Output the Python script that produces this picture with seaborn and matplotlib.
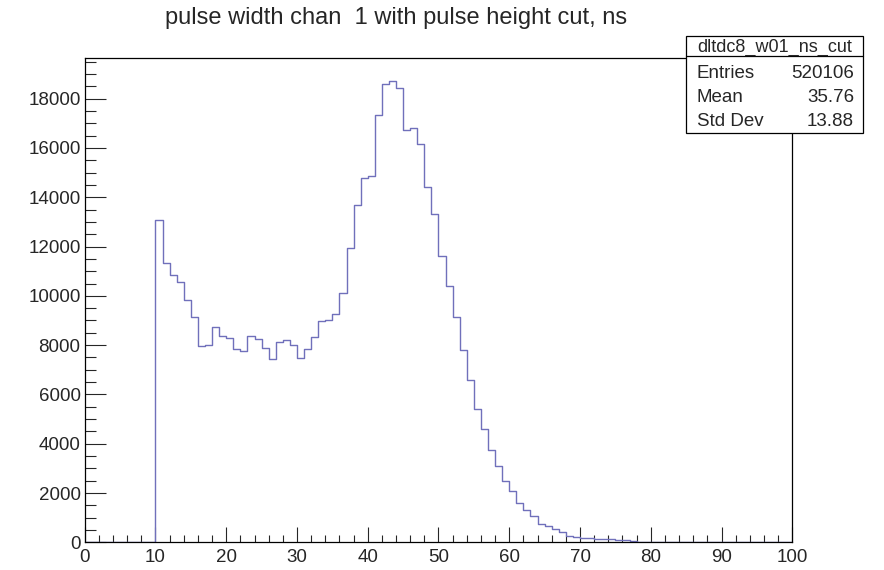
import numpy as np
import pandas as pd
import matplotlib
matplotlib.use("Agg")
import matplotlib.pyplot as plt
from matplotlib.patches import Rectangle
from matplotlib.lines import Line2D
from matplotlib.ticker import MultipleLocator
import seaborn as sns

# Histogram contents: 1 ns bins, first filled bin starts at 10 ns
first_bin = 10
counts = [
    13093, 11350, 10863, 10566, 9850, 9147, 7971, 7998, 8742, 8363,   # 10-19
    8309, 7823, 7755, 8377, 8255, 7864, 7418, 8134, 8201, 7998,       # 20-29
    7472, 7823, 8323, 8985, 9039, 9269, 10134, 11944, 13674, 14796,   # 30-39
    14877, 17323, 18579, 18714, 18444, 16715, 16809, 16174, 14431, 13309,  # 40-49
    11634, 10418, 9134, 7796, 6566, 5391, 4593, 3742, 3107, 2485,     # 50-59
    2066, 1607, 1296, 1080, 742, 661, 539, 430, 269, 228,             # 60-69
    188, 162, 134, 134, 120, 107, 80, 53,                             # 70-77
]
x_range = (0, 100)
hist_name = "dltdc8_w01_ns_cut"
stat_labels = ["Entries", "Mean", "Std Dev"]
stat_values = ["520106", "35.76", "13.88"]
title = "pulse width chan  1 with pulse height cut, ns"

centers = first_bin + 0.5 + np.arange(len(counts))
df = pd.DataFrame({"width_ns": centers, "entries": counts})

sns.set_style("ticks")
plt.rcParams["font.family"] = ["Liberation Sans", "DejaVu Sans"]

W, H = 884, 570
fig = plt.figure(figsize=(W / 100, H / 100), dpi=100)
ax = fig.add_axes([84.7 / W, 1 - 542.3 / H, (792.3 - 84.7) / W, (542.3 - 58) / H])

sns.histplot(data=df, x="width_ns", weights="entries",
             binwidth=1, binrange=x_range,
             element="step", fill=False, color="#7070bb", linewidth=1.0,
             ax=ax)

ax.set_xlim(*x_range)
ax.set_ylim(0, 1.05 * max(counts))
ax.set_xlabel("")
ax.set_ylabel("")

for side in ["top", "right", "bottom", "left"]:
    ax.spines[side].set_visible(True)
    ax.spines[side].set_color("black")
    ax.spines[side].set_linewidth(0.9)

ax.xaxis.set_major_locator(MultipleLocator(10))
ax.xaxis.set_minor_locator(MultipleLocator(2))
ax.yaxis.set_major_locator(MultipleLocator(2000))
ax.yaxis.set_minor_locator(MultipleLocator(500))
ax.tick_params(axis="x", which="major", direction="in", length=10.5, width=0.8,
               labelsize=13.5, pad=4.5, top=False)
ax.tick_params(axis="x", which="minor", direction="in", length=5.2, width=0.8, top=False)
ax.tick_params(axis="y", which="major", direction="in", length=15, width=0.8,
               labelsize=13.5, pad=3, right=False)
ax.tick_params(axis="y", which="minor", direction="in", length=7.8, width=0.8, right=False)

fig.text(396 / W, 1 - 18 / H, title, ha="center", va="center", fontsize=17)

# Statistics box
bx0, bx1, by0, by1 = 685.7, 862.7, 35.7, 133.3
fig.add_artist(Rectangle((bx0 / W, 1 - by1 / H), (bx1 - bx0) / W, (by1 - by0) / H,
                         transform=fig.transFigure, facecolor="white",
                         edgecolor="black", linewidth=0.9, zorder=10))
fig.add_artist(Line2D([bx0 / W, bx1 / W], [1 - 56 / H, 1 - 56 / H],
                      transform=fig.transFigure, color="black", linewidth=0.9, zorder=11))
fig.text((bx0 + bx1) / 2 / W, 1 - 47 / H, hist_name, ha="center", va="center",
         fontsize=13, zorder=12)
for i, (lab, val) in enumerate(zip(stat_labels, stat_values)):
    yy = 1 - (73.5 + 24.2 * i) / H
    fig.text(696.7 / W, yy, lab, ha="left", va="center", fontsize=13.5, zorder=12)
    fig.text(854 / W, yy, val, ha="right", va="center", fontsize=13.5, zorder=12)

fig.savefig("out.png", dpi=100)
